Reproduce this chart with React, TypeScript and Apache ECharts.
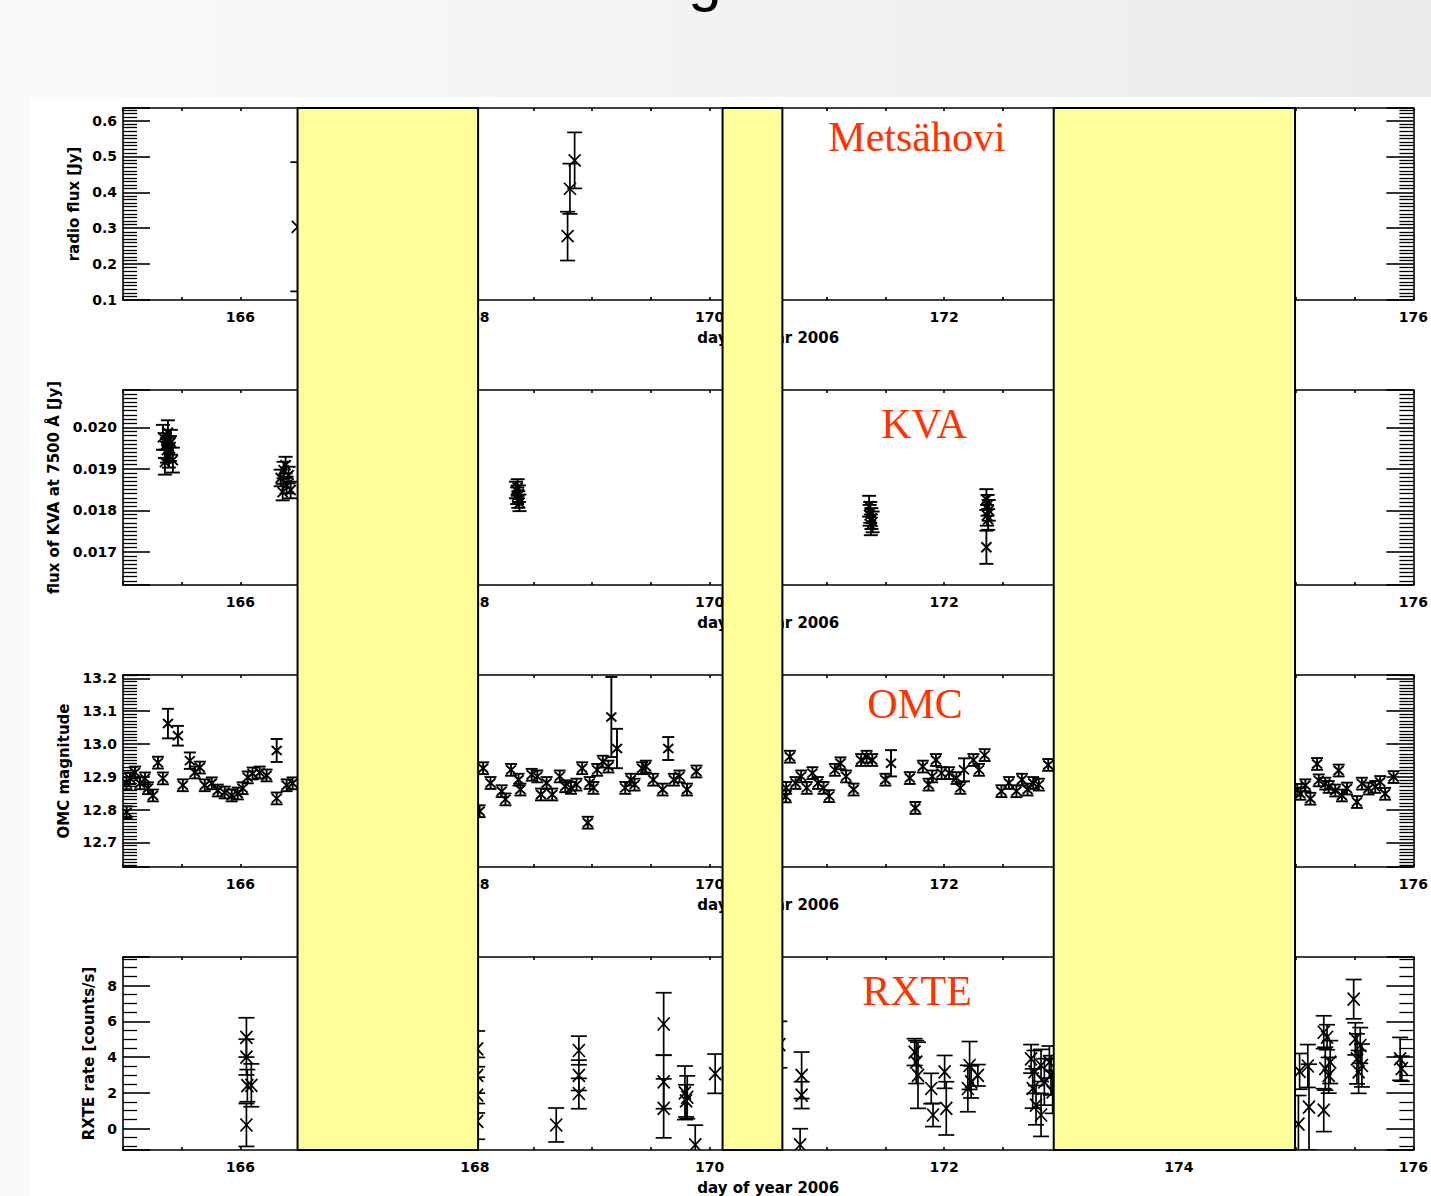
import React, { useEffect, useRef } from 'react';
import * as echarts from 'echarts';

// ---------- data ----------
const dayRange = [165, 176];
const xTitle = 'day of year 2006';
const panelLabels = ['Metsähovi', 'KVA', 'OMC', 'RXTE'];
const yNames = ['radio flux [Jy]', 'flux of KVA at 7500 Å [Jy]', 'OMC magnitude', 'RXTE rate [counts/s]'];
const yRanges = [[0.1, 0.635], [0.0162, 0.0209], [12.625, 13.21], [-1.2, 9.6]];
const yMajorStep = [0.1, 0.001, 0.1, 2];
const yDecimals = [1, 3, 1, 0];
const yMinorSplit = [10, 10, 10, 4];
// days hidden behind the yellow boxes
const gapDays = [[166.488, 168.027], [170.111, 170.621], [172.934, 174.991]];

// [day, value, error]
const radioFlux = [
  [166.49, 0.304, 0.18],
  [168.85, 0.489, 0.078],
  [168.81, 0.41, 0.07],
  [168.79, 0.278, 0.068],
];

const kvaFlux = [
  [165.34, 0.01976, 0.0003], [165.357, 0.01956, 0.0003], [165.374, 0.01945, 0.0003],
  [165.391, 0.01933, 0.0003], [165.408, 0.01964, 0.0003], [165.425, 0.01921, 0.0003],
  [165.357, 0.01916, 0.0003], [165.383, 0.01987, 0.0003], [165.4, 0.01949, 0.0003],
  [166.344, 0.01878, 0.0002], [166.369, 0.01897, 0.0002], [166.395, 0.01861, 0.0002],
  [166.412, 0.01885, 0.0002], [166.429, 0.01849, 0.0002], [166.361, 0.01844, 0.0002],
  [166.386, 0.01909, 0.0002],
  [168.35, 0.01849, 0.0002], [168.36, 0.01835, 0.0002], [168.37, 0.01826, 0.0002],
  [168.375, 0.0184, 0.0002], [168.38, 0.01818, 0.0002], [168.365, 0.01855, 0.0002],
  [171.36, 0.0181, 0.00025], [171.37, 0.01795, 0.00025], [171.38, 0.0178, 0.00025],
  [171.39, 0.01772, 0.00025], [171.375, 0.01765, 0.00025], [171.365, 0.01788, 0.00025],
  [172.36, 0.01826, 0.00025], [172.37, 0.01812, 0.00025], [172.38, 0.018, 0.00025],
  [172.365, 0.01788, 0.00025], [172.375, 0.01778, 0.00025], [172.36, 0.01711, 0.0004],
];

const omcMag = [
  [165.031, 12.792, 0.018], [165.03, 12.88, 0.018], [165.06, 12.895, 0.018], [165.102, 12.913, 0.018],
  [165.145, 12.88, 0.018], [165.187, 12.895, 0.018], [165.213, 12.865, 0.018], [165.255, 12.843, 0.018],
  [165.298, 12.943, 0.018], [165.34, 12.895, 0.018], [165.383, 13.062, 0.045], [165.468, 13.025, 0.03],
  [165.51, 12.874, 0.018], [165.57, 12.949, 0.025], [165.612, 12.913, 0.018], [165.655, 12.928, 0.018],
  [165.697, 12.874, 0.018], [165.757, 12.88, 0.018], [165.808, 12.858, 0.018], [165.867, 12.852, 0.018],
  [165.927, 12.843, 0.018], [165.978, 12.849, 0.018], [166.02, 12.865, 0.018], [166.063, 12.898, 0.018],
  [166.105, 12.91, 0.018], [166.165, 12.913, 0.018], [166.224, 12.904, 0.018], [166.31, 12.98, 0.035],
  [166.31, 12.834, 0.018], [166.395, 12.874, 0.018], [166.446, 12.88, 0.018],
  [168.04, 12.795, 0.018], [168.07, 12.926, 0.018], [168.133, 12.881, 0.018], [168.228, 12.856, 0.018],
  [168.26, 12.831, 0.018], [168.308, 12.921, 0.018], [168.372, 12.891, 0.018], [168.388, 12.861, 0.018],
  [168.484, 12.906, 0.018], [168.532, 12.901, 0.018], [168.563, 12.846, 0.018], [168.611, 12.881, 0.018],
  [168.659, 12.846, 0.018], [168.723, 12.901, 0.018], [168.77, 12.871, 0.018], [168.819, 12.866, 0.018],
  [168.866, 12.876, 0.018], [168.914, 12.926, 0.018], [168.962, 12.76, 0.018], [168.978, 12.881, 0.018],
  [169.01, 12.866, 0.018], [169.042, 12.921, 0.018], [169.09, 12.946, 0.018], [169.138, 12.931, 0.018],
  [169.163, 13.082, 0.122], [169.211, 12.986, 0.06], [169.281, 12.866, 0.018], [169.329, 12.891, 0.018],
  [169.361, 12.876, 0.018], [169.425, 12.926, 0.018], [169.457, 12.931, 0.018], [169.52, 12.891, 0.018],
  [169.6, 12.861, 0.018], [169.648, 12.986, 0.035], [169.696, 12.891, 0.018], [169.744, 12.901, 0.018],
  [169.808, 12.861, 0.018], [169.888, 12.916, 0.018],
  [170.685, 12.961, 0.018], [170.653, 12.866, 0.018], [170.65, 12.84, 0.018], [170.733, 12.881, 0.018],
  [170.781, 12.901, 0.018], [170.829, 12.866, 0.018], [170.877, 12.911, 0.018], [170.924, 12.881, 0.018],
  [170.972, 12.866, 0.018], [171.02, 12.841, 0.018], [171.068, 12.921, 0.018], [171.116, 12.941, 0.018],
  [171.164, 12.901, 0.018], [171.228, 12.861, 0.018], [171.292, 12.951, 0.018], [171.339, 12.961, 0.018],
  [171.387, 12.951, 0.018], [171.499, 12.891, 0.018], [171.547, 12.941, 0.04], [171.707, 12.896, 0.018],
  [171.754, 12.805, 0.018], [171.818, 12.931, 0.018], [171.867, 12.876, 0.018], [171.898, 12.901, 0.018],
  [171.93, 12.951, 0.018], [171.978, 12.911, 0.018], [172.042, 12.911, 0.018], [172.105, 12.896, 0.018],
  [172.138, 12.866, 0.018], [172.169, 12.921, 0.035], [172.249, 12.951, 0.018], [172.297, 12.921, 0.018],
  [172.345, 12.966, 0.018], [172.488, 12.856, 0.018], [172.552, 12.881, 0.018], [172.616, 12.856, 0.018],
  [172.663, 12.891, 0.018], [172.711, 12.861, 0.018], [172.759, 12.881, 0.018], [172.807, 12.876, 0.018],
  [172.887, 12.936, 0.018],
  [175.01, 12.86, 0.018], [175.037, 12.848, 0.018], [175.079, 12.874, 0.018], [175.122, 12.833, 0.018],
  [175.179, 12.939, 0.018], [175.193, 12.889, 0.018], [175.249, 12.879, 0.018], [175.278, 12.869, 0.018],
  [175.334, 12.858, 0.018], [175.363, 12.919, 0.018], [175.391, 12.843, 0.018], [175.434, 12.864, 0.018],
  [175.519, 12.823, 0.018], [175.561, 12.879, 0.018], [175.618, 12.864, 0.018], [175.675, 12.869, 0.018],
  [175.717, 12.884, 0.018], [175.759, 12.848, 0.018], [175.831, 12.899, 0.018],
];

const rxteRate = [
  [166.052, 5.1, 1.1], [166.052, 4.0, 1.0], [166.094, 2.42, 1.2], [166.06, 2.4, 0.9], [166.052, 0.2, 1.2],
  [168.019, 4.46, 1.0], [168.019, 2.98, 1.0], [168.019, 1.87, 1.0], [168.019, 0.4, 1.0],
  [168.693, 0.2, 0.95],
  [168.886, 4.37, 0.8], [168.886, 2.98, 0.85], [168.886, 1.96, 0.85],
  [169.609, 5.85, 1.75], [169.609, 2.61, 1.5], [169.609, 1.13, 1.65],
  [169.79, 2.0, 1.5], [169.81, 1.75, 1.2], [169.8, 1.55, 0.9], [169.878, -0.91, 1.1],
  [170.048, 3.07, 1.1],
  [170.595, 4.7, 1.3],
  [170.785, 2.98, 1.3], [170.785, 1.87, 0.75], [170.772, -0.91, 0.9],
  [171.748, 4.28, 0.75], [171.762, 3.72, 1.2], [171.777, 2.98, 1.85],
  [171.89, 2.24, 0.85], [171.905, 0.76, 0.65],
  [172.004, 3.17, 0.92], [172.018, 1.13, 1.49],
  [172.217, 3.53, 1.34], [172.23, 2.61, 0.9], [172.287, 2.98, 0.6], [172.202, 2.24, 1.3],
  [172.741, 3.9, 0.8], [172.77, 3.17, 1.2], [172.755, 2.24, 1.1], [172.783, 1.31, 1.1],
  [172.826, 3.53, 0.9], [172.854, 2.61, 1.3], [172.826, 0.76, 1.2], [172.897, 3.72, 0.9],
  [172.911, 2.98, 1.1], [172.925, 2.05, 1.2],
  [175.02, 0.25, 1.6], [175.03, 3.2, 1.0], [175.1, 3.5, 1.2], [175.11, 1.2, 2.4],
  [175.236, 5.39, 0.92], [175.264, 5.11, 0.7], [175.249, 3.35, 1.2], [175.278, 2.98, 1.0],
  [175.291, 3.72, 1.2], [175.236, 1.03, 1.2],
  [175.491, 7.24, 1.1], [175.505, 5.02, 0.9], [175.547, 4.65, 1.0], [175.519, 3.9, 1.4],
  [175.561, 3.53, 1.2], [175.533, 3.17, 1.2],
  [175.887, 3.9, 1.2], [175.901, 3.35, 0.7],
];

const panelData = [radioFlux, kvaFlux, omcMag, rxteRate];

// ---------- layout / style ----------
const panelLayout = [
  { top: 108, height: 192, nameGap: 40, mx: 6, my: 6, cap: 7.5, lw: 1.7, labelX: 917, labelY: 137 },
  { top: 390, height: 195, nameGap: 61, mx: 5, my: 5, cap: 7, lw: 1.9, labelX: 924, labelY: 424 },
  { top: 675, height: 192, nameGap: 50, mx: 5, my: 4.5, cap: 6, lw: 1.9, labelX: 915, labelY: 704 },
  { top: 957, height: 195, nameGap: 25, mx: 6, my: 6.5, cap: 8, lw: 1.7, labelX: 917, labelY: 991 },
];
const GRID_LEFT = 123;
const GRID_RIGHT = 12;
const LABEL_FONT = 'DejaVu Sans';

const makeRender = (mx: number, my: number, cap: number, lw: number) => (_params: any, api: any) => {
  const x = api.value(0);
  const y = api.value(1);
  const e = api.value(2);
  const c = api.coord([x, y]);
  const t = api.coord([x, y + e]);
  const b = api.coord([x, y - e]);
  const st = { stroke: '#000', lineWidth: lw };
  return {
    type: 'group',
    children: [
      { type: 'line', shape: { x1: c[0], y1: t[1], x2: c[0], y2: b[1] }, style: st },
      { type: 'line', shape: { x1: c[0] - cap, y1: t[1], x2: c[0] + cap, y2: t[1] }, style: st },
      { type: 'line', shape: { x1: c[0] - cap, y1: b[1], x2: c[0] + cap, y2: b[1] }, style: st },
      { type: 'line', shape: { x1: c[0] - mx, y1: c[1] - my, x2: c[0] + mx, y2: c[1] + my }, style: st },
      { type: 'line', shape: { x1: c[0] - mx, y1: c[1] + my, x2: c[0] + mx, y2: c[1] - my }, style: st },
    ],
  };
};

const isMultiple = (v: number, step: number) => Math.abs(v / step - Math.round(v / step)) < 1e-6;

export default function App() {
  const ref = useRef<HTMLDivElement>(null);

  useEffect(() => {
    if (!ref.current) return;
    const chart = echarts.init(ref.current, undefined, { renderer: 'svg' });

    const lineStyle = { color: '#000', width: 1.6 };
    const labelStyle = { color: '#000', fontFamily: LABEL_FONT, fontWeight: 'bold' as const, fontSize: 14 };
    const grids: any[] = [];
    const xAxes: any[] = [];
    const yAxes: any[] = [];
    const series: any[] = [];

    panelLayout.forEach((p, i) => {
      grids.push({ left: GRID_LEFT, right: GRID_RIGHT, top: p.top, height: p.height, containLabel: false });
      const xBase = {
        gridIndex: i,
        type: 'value',
        min: dayRange[0],
        max: dayRange[1],
        interval: 0.5,
        axisLine: { show: true, onZero: false, lineStyle },
        axisTick: { show: true, inside: true, length: 3, lineStyle },
        splitLine: { show: false },
      };
      xAxes.push({
        ...xBase,
        position: 'bottom',
        axisLabel: {
          ...labelStyle,
          margin: 10,
          formatter: (v: number) => (isMultiple(v, 2) ? String(Math.round(v)) : ''),
        },
        name: xTitle,
        nameLocation: 'middle',
        nameGap: 30,
        nameTextStyle: { ...labelStyle, fontSize: 15 },
      });
      xAxes.push({ ...xBase, position: 'top', axisLabel: { show: false } });

      const yBase = {
        gridIndex: i,
        type: 'value',
        min: yRanges[i][0],
        max: yRanges[i][1],
        axisLine: { show: true, onZero: false, lineStyle },
        axisTick: { show: true, inside: true, length: 27, lineStyle },
        minorTick: { show: true, splitNumber: yMinorSplit[i], length: 14, lineStyle: { color: '#000', width: 1.3 } },
        splitLine: { show: false },
        minorSplitLine: { show: false },
      };
      yAxes.push({
        ...yBase,
        position: 'left',
        axisLabel: {
          ...labelStyle,
          margin: 6,
          formatter: (v: number) => (isMultiple(v, yMajorStep[i]) ? v.toFixed(yDecimals[i]) : ''),
        },
        name: yNames[i],
        nameLocation: 'middle',
        nameGap: p.nameGap,
        nameTextStyle: { ...labelStyle, fontSize: 15 },
      });
      yAxes.push({ ...yBase, position: 'right', axisLabel: { show: false } });

      series.push({
        type: 'custom',
        xAxisIndex: 2 * i,
        yAxisIndex: 2 * i,
        data: panelData[i],
        encode: { x: 0, y: 1 },
        clip: true,
        renderItem: makeRender(p.mx, p.my, p.cap, p.lw),
      });
    });

    chart.setOption({
      animation: false,
      backgroundColor: 'transparent',
      grid: grids,
      xAxis: xAxes,
      yAxis: yAxes,
      series,
    });

    const top = chart.convertToPixel({ yAxisIndex: 0 }, yRanges[0][1]) as number;
    const bottom = chart.convertToPixel({ yAxisIndex: 6 }, yRanges[3][0]) as number;
    const rects = gapDays.map(([a, b]) => {
      const x1 = chart.convertToPixel({ xAxisIndex: 0 }, a) as number;
      const x2 = chart.convertToPixel({ xAxisIndex: 0 }, b) as number;
      return {
        type: 'rect',
        z: 100,
        shape: { x: x1, y: top, width: x2 - x1, height: bottom - top },
        style: { fill: '#ffff99', stroke: '#000', lineWidth: 2 },
      };
    });
    const labels = panelLayout.map((p, i) => ({
      type: 'text',
      z: 101,
      x: p.labelX,
      y: p.labelY,
      style: {
        text: panelLabels[i],
        fill: '#ff3300',
        font: '42px "Liberation Serif", "Times New Roman", serif',
        align: 'center',
        verticalAlign: 'middle',
      },
    }));
    const titleTail = {
      type: 'text',
      z: 101,
      x: 705,
      y: -21,
      style: {
        text: 'g',
        fill: '#000',
        font: '60px "Liberation Sans", Arial, sans-serif',
        align: 'center',
        verticalAlign: 'middle',
      },
    };
    chart.setOption({ graphic: [...rects, ...labels, titleTail] });

    return () => chart.dispose();
  }, []);

  return (
    <div
      style={{
        position: 'absolute',
        left: 0,
        top: 0,
        width: 1431,
        height: 1196,
        overflow: 'hidden',
        background: 'linear-gradient(to right, #fafafa, #ebebeb)',
      }}
    >
      <div style={{ position: 'absolute', left: 30, top: 97, width: 1401, height: 1099, background: '#fff' }} />
      <div ref={ref} style={{ position: 'absolute', left: 0, top: 0, width: 1431, height: 1196 }} />
    </div>
  );
}
